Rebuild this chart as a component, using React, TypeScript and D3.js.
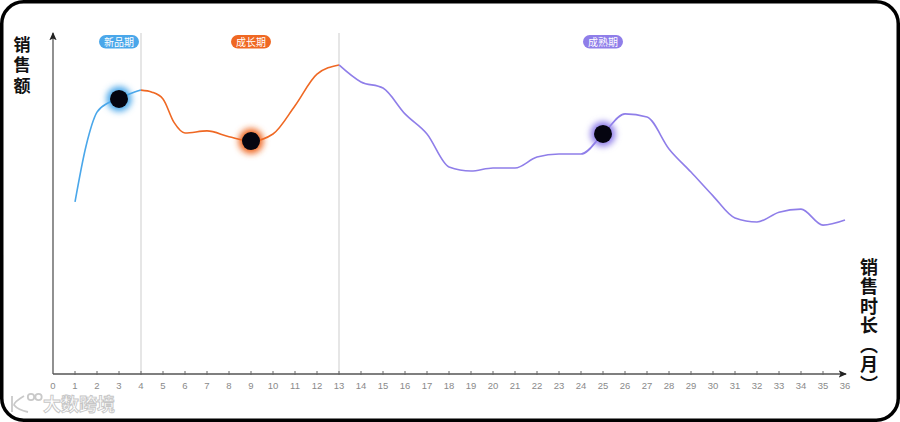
import React from "react";
import * as d3 from "d3";

const newMonths = [1, 1.5, 2, 2.5, 3, 3.5, 4];
const newSales = [50.6, 67, 77, 79.7, 80.9, 82.4, 83.5];

const growthMonths = [4, 4.5, 5, 5.5, 6, 7, 8, 9, 10, 11, 12, 13];
const growthSales = [83.5, 82.9, 80.9, 74, 70.9, 71.5, 69.8, 68.5, 70.6, 78.9, 88.2, 90.9];

const matureMonths = [13, 14, 15, 16, 17, 18, 19, 20, 21, 22, 23, 24, 25, 26, 27, 28, 29, 30, 31, 32, 33, 34, 35, 36];
const matureSales = [90.9, 85.9, 84.1, 76.5, 70.6, 60.9, 59.7, 60.6, 60.6, 63.8, 64.7, 64.7, 70.6, 76.5, 75.6, 66.2, 59.4, 52.4, 45.9, 44.7, 47.6, 48.5, 43.8, 45.3];

const phaseNames = ["新品期", "成长期", "成熟期"];
const phaseColors = ["#4aa7ea", "#ef6823", "#8f7ee9"];
const phaseMarkMonths = [3, 9, 25];
const phaseBoundaries = [4, 13];

const xTicks = d3.range(0, 37);

const yTitle = "销售额";
const xTitle = "销售时长（月）";

export default function App() {
  const W = 900;
  const H = 422;
  const x = d3.scaleLinear().domain([0, 36]).range([53, 845]);
  const y = d3.scaleLinear().domain([0, 100]).range([374, 34]);
  const axisY = y(0);
  const line = d3
    .line<[number, number]>()
    .x((d) => x(d[0]))
    .y((d) => y(d[1]))
    .curve(d3.curveMonotoneX);

  const series = [
    newMonths.map((m, i) => [m, newSales[i]] as [number, number]),
    growthMonths.map((m, i) => [m, growthSales[i]] as [number, number]),
    matureMonths.map((m, i) => [m, matureSales[i]] as [number, number]),
  ];
  const allPts = series.flat();
  const valueAt = (m: number) => {
    const p = allPts.find((d) => d[0] === m);
    return p ? p[1] : 0;
  };

  const font = "'Noto Sans CJK SC', 'Noto Sans', sans-serif";

  return (
    <svg
      width={W}
      height={H}
      style={{ position: "absolute", left: 0, top: 0, background: "#fff" }}
    >
      <defs>
        {phaseColors.map((c, i) => (
          <filter key={i} id={`glow${i}`} x="-100%" y="-100%" width="300%" height="300%">
            <feGaussianBlur stdDeviation="3.2" />
          </filter>
        ))}
        <marker id="arrow" viewBox="0 0 10 10" refX="8" refY="5" markerWidth="7" markerHeight="7" orient="auto">
          <path d="M0,1 L9,5 L0,9 L2,5 Z" fill="#222" />
        </marker>
      </defs>

      <rect x={1.75} y={1.75} width={W - 3.5} height={H - 3.5} rx={22} fill="#fff" stroke="#000" strokeWidth={3.5} />

      {/* phase boundaries */}
      {phaseBoundaries.map((m) => (
        <line key={m} x1={x(m)} x2={x(m)} y1={33} y2={axisY} stroke="#d6d6d6" strokeWidth={1.2} />
      ))}

      {/* axes */}
      <line x1={x(0)} x2={x(0)} y1={axisY} y2={33} stroke="#555" strokeWidth={1.3} markerEnd="url(#arrow)" />
      <line x1={x(0)} x2={x(36) + 1} y1={axisY} y2={axisY} stroke="#555" strokeWidth={1.3} markerEnd="url(#arrow)" />
      {xTicks.map((t) => (
        <g key={t}>
          {t > 0 && t < 36 && (
            <line x1={x(t)} x2={x(t)} y1={axisY - 3} y2={axisY + 1} stroke="#666" strokeWidth={1} />
          )}
          <text x={x(t)} y={389} textAnchor="middle" fontSize={9.5} fill="#8a8a8a" fontFamily="'Liberation Sans', Arial, sans-serif">
            {t}
          </text>
        </g>
      ))}

      {/* curves */}
      {series.map((s, i) => (
        <path key={i} d={line(s) || ""} fill="none" stroke={phaseColors[i]} strokeWidth={1.6} />
      ))}

      {/* glowing dots */}
      {phaseMarkMonths.map((m, i) => (
        <g key={m}>
          <circle cx={x(m)} cy={y(valueAt(m))} r={12.5} fill={phaseColors[i]} filter={`url(#glow${i})`} />
          <circle cx={x(m)} cy={y(valueAt(m))} r={9} fill="#050510" />
        </g>
      ))}

      {/* phase pills */}
      {phaseMarkMonths.map((m, i) => (
        <g key={`p${m}`}>
          <rect x={x(m) - 20} y={35} width={40} height={13.5} rx={6.75} fill={phaseColors[i]} />
          <text x={x(m)} y={45.5} textAnchor="middle" fontSize={10} fill="#fff" fontFamily={font}>
            {phaseNames[i]}
          </text>
        </g>
      ))}

      {/* y title (vertical) */}
      <text
        x={22}
        y={36}
        fontSize={17}
        fontWeight="bold"
        fill="#111"
        fontFamily={font}
        style={{ writingMode: "vertical-rl" as any }}
        letterSpacing={3.5}
      >
        {yTitle}
      </text>

      {/* x title (vertical) */}
      <text
        x={869}
        y={258}
        fontSize={18}
        fontWeight="bold"
        fill="#111"
        fontFamily={font}
        style={{ writingMode: "vertical-rl" as any }}
        letterSpacing={1.5}
      >
        {xTitle}
      </text>

      {/* watermark */}
      <g fill="none" stroke="#c9c9c9" strokeWidth={1.8}>
        <path d="M12,396 L12,412 M24,396 Q14,402 14,405 Q18,410 28,412" />
        <circle cx={31} cy={397} r={3.2} />
        <circle cx={38.5} cy={397} r={3.2} />
      </g>
      <text x={43} y={411} fontSize={18} fill="#fff" stroke="#c6c6c6" strokeWidth={0.9} fontWeight="bold" fontFamily={font}>
        大数跨境
      </text>
    </svg>
  );
}
